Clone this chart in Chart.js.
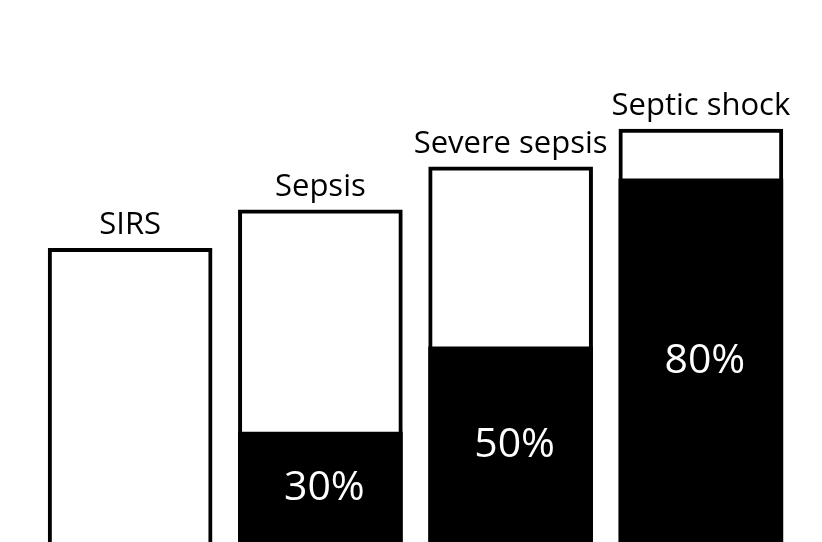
<!DOCTYPE html>
<html>
<head>
  <title>Sepsis stages</title>
  <script src="https://cdn.jsdelivr.net/npm/chart.js"></script>
  <style>
    body {
      margin: 0;
      background: #ffffff;
      overflow: hidden;
    }
    canvas {
      display: block;
    }
  </style>
</head>
<body>
  <canvas id="stageChart" width="822" height="542"></canvas>

  <script>
    // bar heights, as % of picture height (bars run off the bottom edge)
    const stages = ['SIRS', 'Sepsis', 'Severe sepsis', 'Septic shock'];
    const boxHeights = [54.2, 61.3, 69.2, 76.2];
    const filledHeights = [null, 20.3, 36.0, 67.0];
    const filledLabels = ['', '30%', '50%', '80%'];

    const FONT = '"Open Sans", "Noto Sans", sans-serif';

    // draws stage names above the boxes and the percent inside the black part
    const labelPlugin = {
      id: 'stageLabels',
      afterDatasetsDraw(chart) {
        const ctx = chart.ctx;
        const boxes = chart.getDatasetMeta(0).data;
        const fills = chart.getDatasetMeta(1).data;
        ctx.save();
        ctx.textAlign = 'center';

        ctx.fillStyle = '#000000';
        ctx.font = '31px ' + FONT;
        ctx.textBaseline = 'alphabetic';
        boxes.forEach((bar, i) => {
          ctx.fillText(stages[i], bar.x, bar.y - 14);
        });

        ctx.fillStyle = '#ffffff';
        ctx.font = '41px ' + FONT;
        ctx.textBaseline = 'middle';
        fills.forEach((bar, i) => {
          if (!filledLabels[i] || filledHeights[i] == null) return;
          const bottom = chart.chartArea.bottom;
          ctx.fillText(filledLabels[i], bar.x + 4, (bar.y + bottom) / 2 + 1);
        });
        ctx.restore();
      }
    };

    new Chart(document.getElementById('stageChart'), {
      type: 'bar',
      data: {
        labels: stages,
        datasets: [{
          label: 'box',
          data: boxHeights,
          backgroundColor: '#ffffff',
          borderColor: '#000000',
          borderWidth: 4,
          borderSkipped: 'start',
          order: 2
        }, {
          label: 'filled',
          data: filledHeights,
          backgroundColor: '#000000',
          borderWidth: 0,
          order: 1
        }]
      },
      options: {
        responsive: false,
        animation: false,
        devicePixelRatio: 1,
        layout: {
          padding: { left: 35, right: 26, top: 0, bottom: 0 }
        },
        datasets: {
          bar: {
            grouped: false,
            barThickness: 164
          }
        },
        plugins: {
          legend: { display: false },
          tooltip: { enabled: false }
        },
        scales: {
          x: { display: false },
          y: { display: false, min: 0, max: 100 }
        }
      },
      plugins: [labelPlugin]
    });
  </script>
</body>
</html>
